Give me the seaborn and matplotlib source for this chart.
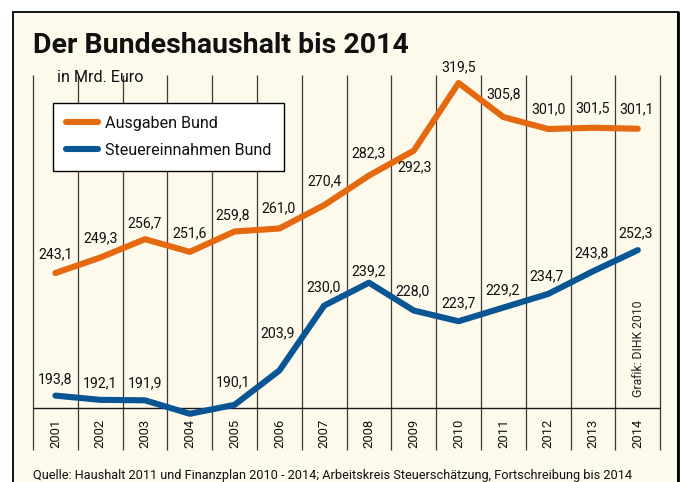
import numpy as np
import pandas as pd
import matplotlib
matplotlib.use("Agg")
import matplotlib.pyplot as plt
from matplotlib.patches import Rectangle
from matplotlib.lines import Line2D
import seaborn as sns

# data (Mrd. Euro)
years = list(range(2001, 2015))
ausgaben = [243.1, 249.3, 256.7, 251.6, 259.8, 261.0, 270.4, 282.3, 292.3, 319.5, 305.8, 301.0, 301.5, 301.1]
steuern = [193.8, 192.1, 191.9, 186.5, 190.1, 203.9, 230.0, 239.2, 228.0, 223.7, 229.2, 234.7, 243.8, 252.3]
steuern_shown = [True, True, True, False] + [True] * 10
series_names = ["Ausgaben Bund", "Steuereinnahmen Bund"]

# label offsets in pixels (dx, dy) relative to the point
off_ausgaben = [(0, 19), (0, 19), (0, 16), (0, 19), (-2, 16), (-1, 20), (0, 24),
                (0, 22), (1, -17), (0, 16), (0, 23), (0, 20), (0, 19), (-1, 19)]
off_steuern = [(0, 16), (0, 17), (0, 17), (0, 0), (-2, 23), (-2, 37), (-1, 18),
               (0, 11), (-1, 19), (0, 18), (-1, 17), (-2, 18), (-1, 18), (-2, 17)]

ORANGE = "#E5690F"
BLUE = "#0A5594"
CREAM = "#FDF9EB"
TXT = "#111111"
W, H = 682, 482

sns.set_theme(style="white")
plt.rcParams["font.family"] = ["Roboto", "DejaVu Sans"]

# pixel <-> data mapping (chart drawn on one full-figure axes)
X0, DX = 55.4, 44.8          # pixel x of first year, pixel step
Y_REF, V_REF, K = 273.0, 243.1, 2.487   # pixel y of 243.1, px per Mrd


def vy(ypix):
    return V_REF - (ypix - Y_REF) / K


def fx(xpix):
    return xpix / W


def fy(ypix):
    return 1 - ypix / H


fig = plt.figure(figsize=(W / 100, H / 100), dpi=100)
fig.patch.set_facecolor("white")

# cream panel with black frame
fig.add_artist(Rectangle((fx(13), -0.1), fx(678) - fx(13), fy(12) + 0.1,
                         transform=fig.transFigure, facecolor=CREAM,
                         edgecolor="black", linewidth=1.3, zorder=0))
fig.add_artist(Line2D([fx(678), fx(678)], [0, fy(12)], transform=fig.transFigure,
                      color="black", linewidth=2.0, zorder=1))

ax = fig.add_axes([0, 0, 1, 1])
ax.set_xlim(-X0 / DX, (W - X0) / DX)
ax.set_ylim(vy(H), vy(0))
ax.axis("off")

idx = np.arange(len(years))

# grid: separators between years and base line
ax.vlines(np.arange(len(years) + 1) - 0.5, vy(450), vy(75), color="#3a3a3a", lw=0.9, zorder=1)
ax.hlines(vy(408), -0.5, len(years) - 0.5, color="#1a1a1a", lw=1.0, zorder=1)

df = pd.DataFrame({
    "idx": np.concatenate([idx, idx]),
    "value": ausgaben + steuern,
    "series": [series_names[0]] * len(years) + [series_names[1]] * len(years),
})
sns.lineplot(data=df, x="idx", y="value", hue="series", palette=[ORANGE, BLUE],
             lw=4.4, ax=ax, legend=False, sort=False, zorder=3)
for ln in ax.lines:
    ln.set_solid_capstyle("round")
    ln.set_solid_joinstyle("round")


def fmt(v):
    return f"{v:.1f}".replace(".", ",")


for i, v in enumerate(ausgaben):
    ax.annotate(fmt(v), (i, v), xytext=off_ausgaben[i], textcoords="offset pixels",
                ha="center", va="center", fontsize=10.2, color=TXT, zorder=4)
for i, v in enumerate(steuern):
    if steuern_shown[i]:
        ax.annotate(fmt(v), (i, v), xytext=off_steuern[i], textcoords="offset pixels",
                    ha="center", va="center", fontsize=10.2, color=TXT, zorder=4)

for i, y in enumerate(years):
    ax.text(i, vy(433), str(y), rotation=90, ha="center", va="center",
            fontsize=9.4, color=TXT)

handles = [Line2D([], [], color=ORANGE, lw=4.4, solid_capstyle="round"),
           Line2D([], [], color=BLUE, lw=4.4, solid_capstyle="round")]
leg = ax.legend(handles, series_names, loc="upper left",
                bbox_to_anchor=(fx(53), fy(103)), bbox_transform=fig.transFigure,
                frameon=True, fancybox=False, framealpha=1, facecolor="white",
                edgecolor="black", fontsize=11.6, handlelength=2.0,
                handletextpad=0.45, borderpad=0.78, labelspacing=0.78,
                borderaxespad=0)
leg.get_frame().set_linewidth(1.0)
for t in leg.get_texts():
    t.set_color(TXT)

fig.text(fx(33), fy(53), "Der Bundeshaushalt bis 2014", ha="left", va="baseline",
         fontsize=20.5, fontweight="bold", color=TXT)
fig.text(fx(57), fy(77), "in Mrd. Euro", ha="left", va="center",
         fontsize=11.6, color=TXT)
fig.text(fx(33), fy(475), "Quelle: Haushalt 2011 und Finanzplan 2010 - 2014; "
         "Arbeitskreis Steuerschätzung, Fortschreibung bis 2014",
         ha="left", va="center", fontsize=9.2, color=TXT)
fig.text(fx(638), fy(349), "Grafik: DIHK 2010", rotation=90, ha="center", va="center",
         fontsize=8.8, color="#222222")

fig.savefig("out.png", dpi=100, facecolor="white")
